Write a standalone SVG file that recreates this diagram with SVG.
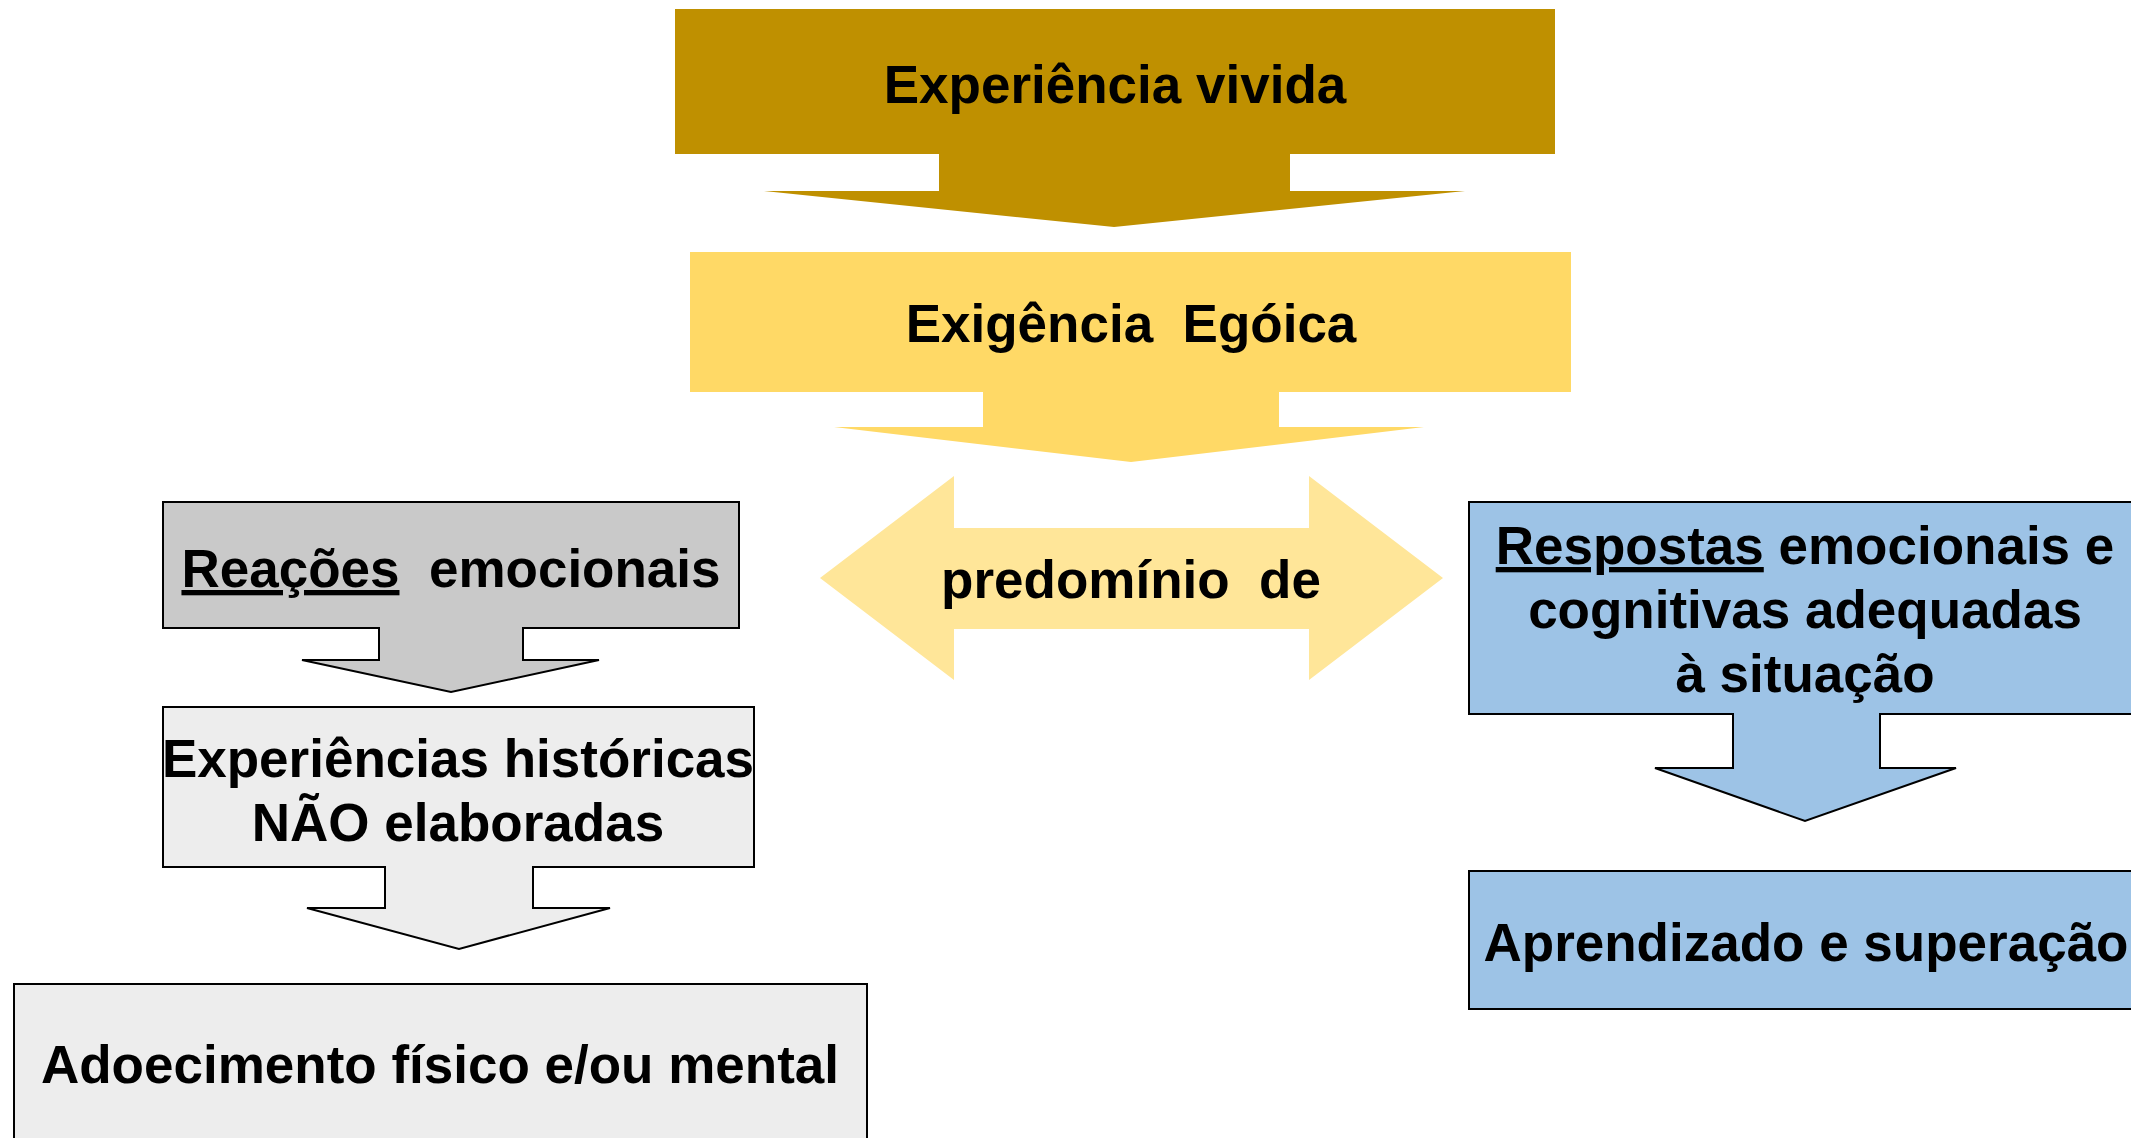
<svg xmlns="http://www.w3.org/2000/svg" width="2131" height="1138" viewBox="0 0 2131 1138">
<style>
text{font-family:"Liberation Sans",Arial,sans-serif;font-weight:bold;font-size:53px;fill:#000;text-anchor:middle;white-space:pre}
.u{text-decoration:underline}
.ol{stroke:#000;stroke-width:2}
</style>
<rect width="2131" height="1138" fill="#fff"/>
<g id="connectors">
<polygon id="c-dupla" points="820,578 954,476 954,528 1309,528 1309,476 1443,578 1309,680 1309,629 954,629 954,680" fill="#FFE699"/>
</g>
<g id="n-experiencia">
<polygon points="675,9 1555,9 1555,154 1290,154 1290,191 1465,191 1114,227 764,191 939,191 939,154 675,154" fill="#BF9000"/>
<text x="1115" y="103">Experiência vivida</text>
</g>
<g id="n-exigencia">
<polygon points="690,252 1571,252 1571,392 1279,392 1279,427 1424,427 1131,462 834,427 983,427 983,392 690,392" fill="#FFD966"/>
<text x="1131" y="342">Exigência  Egóica</text>
</g>
<g id="n-predominio">
<text x="1131" y="598">predomínio  de</text>
</g>
<g id="n-reacoes">
<polygon class="ol" points="163,502 739,502 739,628 523,628 523,660 599,660 451,692 302,660 379,660 379,628 163,628" fill="#C9C9C9"/>
<text x="451" y="587"><tspan class="u">Reações</tspan>  emocionais</text>
</g>
<g id="n-historicas">
<polygon class="ol" points="163,707 754,707 754,867 533,867 533,908 610,908 459,949 307,908 385,908 385,867 163,867" fill="#EDEDED"/>
<text x="458" y="777">Experiências históricas</text>
<text x="458" y="841">NÃO elaboradas</text>
</g>
<g id="n-adoecimento">
<rect class="ol" x="14" y="984" width="853" height="170" fill="#EDEDED"/>
<text x="440" y="1083">Adoecimento físico e/ou mental</text>
</g>
<g id="n-respostas">
<polygon class="ol" points="1469,502 2140,502 2140,714 1880,714 1880,768 1956,768 1805,821 1655,768 1733,768 1733,714 1469,714" fill="#9DC3E6"/>
<text x="1805" y="564"><tspan class="u">Respostas</tspan> emocionais e</text>
<text x="1805" y="628">cognitivas adequadas</text>
<text x="1805" y="692">à situação</text>
</g>
<g id="n-aprendizado">
<rect class="ol" x="1469" y="871" width="700" height="138" fill="#9DC3E6"/>
<text x="1806" y="961">Aprendizado e superação</text>
</g>
</svg>
